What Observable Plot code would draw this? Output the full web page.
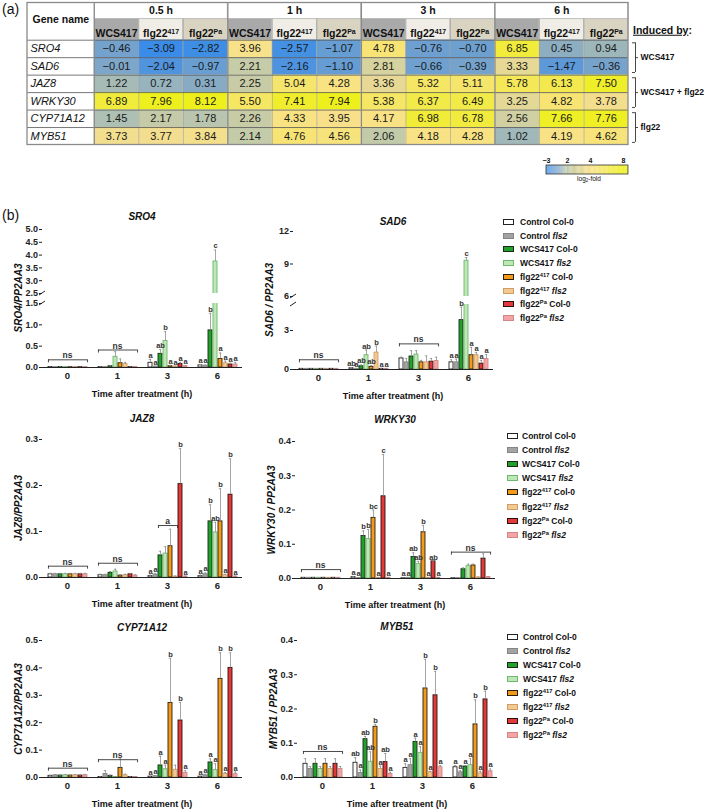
<!DOCTYPE html>
<html>
<head>
<meta charset="utf-8">
<script src="https://cdn.jsdelivr.net/npm/d3@7"></script>
<script src="https://cdn.jsdelivr.net/npm/@observablehq/plot@0.6"></script>
<style>
html,body{margin:0;padding:0;background:#fff;}
#page{position:relative;width:709px;height:810px;overflow:hidden;background:#fff;font-family:"Liberation Sans",Arial,Helvetica,sans-serif;color:#111;}
#page svg{overflow:visible;}
.t{position:absolute;white-space:nowrap;line-height:1;}
sup{font-size:68%;vertical-align:0.5em;line-height:0;}
sub{font-size:68%;vertical-align:-0.25em;line-height:0;}
</style>
</head>
<body>
<div id="page"></div>
<script>
// ================= DATA =================
// (a) heat-map table
const genes = ["SRO4","SAD6","JAZ8","WRKY30","CYP71A12","MYB51"];
const times = ["0.5 h","1 h","3 h","6 h"];
const treatments = ["WCS417","flg22^417","flg22^Pa"];
const foldSRO4   = [-0.46,-3.09,-2.82, 3.96,-2.57,-1.07, 4.78,-0.76,-0.70, 6.85, 0.45, 0.94];
const foldSAD6   = [-0.01,-2.04,-0.97, 2.21,-2.16,-1.10, 2.81,-0.66,-0.39, 3.33,-1.47,-0.36];
const foldJAZ8   = [ 1.22, 0.72, 0.31, 2.25, 5.04, 4.28, 3.36, 5.32, 5.11, 5.78, 6.13, 7.50];
const foldWRKY30 = [ 6.89, 7.96, 8.12, 5.50, 7.41, 7.94, 5.38, 6.37, 6.49, 3.25, 4.82, 3.78];
const foldCYP71A12=[ 1.45, 2.17, 1.78, 2.26, 4.33, 3.95, 4.17, 6.98, 6.78, 2.56, 7.66, 7.76];
const foldMYB51  = [ 3.73, 3.77, 3.84, 2.14, 4.76, 4.56, 2.06, 4.18, 4.28, 1.02, 4.19, 4.62];
const foldRows = [foldSRO4, foldSAD6, foldJAZ8, foldWRKY30, foldCYP71A12, foldMYB51];
const inducedBy = ["WCS417","WCS417 + flg22","flg22"];
const inducedGenes = [[0,2],[2,4],[4,6]];
const colorStops = [-3, 0, 2, 4, 8];
const colorbarTicks = [-3, 2, 4, 8];

// (b) qRT-PCR bar panels
const hours = ["0","1","3","6"];
const groups = ["Control Col-0","Control fls2","WCS417 Col-0","WCS417 fls2",
                "flg22^417 Col-0","flg22^417 fls2","flg22^Pa Col-0","flg22^Pa fls2"];

const sro4Mean = [0.012,0.008,0.012,0.010,0.010,0.010,0.010,0.008,
                  0.010,0.010,0.030,0.250,0.100,0.080,0.010,0.010,
                  0.110,0.020,0.320,0.620,0.030,0.020,0.080,0.030,
                  0.050,0.040,0.870,3.750,0.200,0.100,0.070,0.070];
const sro4Sd   = [0.004,0.004,0.004,0.004,0.004,0.004,0.004,0.004,
                  0.005,0.005,0.010,0.120,0.100,0.040,0.005,0.005,
                  0.080,0.010,0.100,0.220,0.020,0.010,0.040,0.010,
                  0.020,0.020,0.400,0.450,0.140,0.050,0.030,0.050];
const sro4Letters = ["","","","","","","","",
                     "","","","","","","","",
                     "a","a","ab","b","a","a","a","a",
                     "a","a","b","c","a","a","a","a"];
const sro4Brackets = [{hour:"0", y:0.18, label:"ns", from:0, to:7},
                      {hour:"1", y:0.41, label:"ns", from:0, to:7}];

const sad6Mean = [0.05,0.05,0.05,0.05,0.05,0.05,0.05,0.05,
                  0.10,0.05,0.25,1.10,0.20,1.30,0.05,0.05,
                  0.85,0.55,1.00,1.15,0.55,0.55,0.60,0.65,
                  0.55,0.55,3.80,9.30,1.10,1.10,0.45,0.80];
const sad6Sd   = [0.02,0.02,0.02,0.02,0.02,0.02,0.02,0.02,
                  0.05,0.03,0.10,0.40,0.10,0.50,0.03,0.03,
                  0.10,0.30,0.45,0.30,0.15,0.50,0.25,0.30,
                  0.20,0.25,1.00,0.30,0.60,0.20,0.25,0.35];
const sad6Letters = ["","","","","","","","",
                     "ab","a","ab","ab","ab","b","a","a",
                     "","","","","","","","",
                     "a","a","b","c","a","a","a","a"];
const sad6Brackets = [{hour:"0", y:0.75, label:"ns", from:0, to:7},
                      {hour:"3", y:1.97, label:"ns", from:0, to:7}];

const jaz8Mean = [0.007,0.007,0.007,0.007,0.007,0.007,0.007,0.007,
                  0.005,0.005,0.010,0.013,0.004,0.005,0.007,0.004,
                  0.003,0.006,0.048,0.052,0.068,0.002,0.203,0.002,
                  0.003,0.007,0.122,0.098,0.122,0.005,0.180,0.002];
const jaz8Sd   = [0.002,0.002,0.002,0.002,0.002,0.002,0.002,0.002,
                  0.002,0.002,0.003,0.005,0.002,0.002,0.002,0.002,
                  0.002,0.003,0.009,0.015,0.037,0.001,0.077,0.001,
                  0.002,0.003,0.036,0.022,0.071,0.002,0.078,0.001];
const jaz8Letters = ["","","","","","","","",
                     "","","","","","","","",
                     "a","a","","","","","b","a",
                     "a","a","b","ab","b","a","b","a"];
const jaz8Brackets = [{hour:"0", y:0.0246, label:"ns", from:0, to:7},
                      {hour:"1", y:0.031, label:"ns", from:0, to:7},
                      {hour:"3", y:0.113, label:"a", from:2, to:5}];

const wrky30Mean = [0.002,0.002,0.002,0.002,0.002,0.002,0.002,0.002,
                    0.004,0.001,0.124,0.115,0.177,0.002,0.240,0.002,
                    0.001,0.002,0.063,0.042,0.135,0.002,0.050,0.002,
                    0.001,0.001,0.027,0.036,0.038,0.003,0.058,0.004];
const wrky30Sd   = [0.001,0.001,0.001,0.001,0.001,0.001,0.001,0.001,
                    0.002,0.001,0.015,0.028,0.023,0.001,0.122,0.001,
                    0.001,0.001,0.012,0.008,0.020,0.001,0.001,0.001,
                    0.001,0.001,0.004,0.006,0.004,0.001,0.014,0.001];
const wrky30Letters = ["","","","","","","","",
                       "a","a","b","b","bc","a","c","a",
                       "a","a","ab","ab","b","a","ab","a",
                       "","","","","","","",""];
const wrky30Brackets = [{hour:"0", y:0.026, label:"ns", from:0, to:7},
                        {hour:"6", y:0.077, label:"ns", from:0, to:7}];

const cypMean = [0.006,0.008,0.007,0.008,0.007,0.008,0.007,0.008,
                 0.002,0.013,0.006,0.002,0.035,0.008,0.002,0.002,
                 0.003,0.005,0.044,0.030,0.272,0.028,0.208,0.017,
                 0.003,0.008,0.055,0.027,0.360,0.013,0.400,0.012];
const cypSd   = [0.002,0.003,0.002,0.003,0.002,0.003,0.002,0.003,
                 0.001,0.012,0.003,0.001,0.033,0.004,0.001,0.001,
                 0.001,0.002,0.034,0.015,0.163,0.017,0.066,0.008,
                 0.001,0.004,0.013,0.023,0.095,0.005,0.055,0.008];
const cypLetters = ["","","","","","","","",
                    "","","","","","","","",
                    "a","a","a","a","b","","b","a",
                    "a","a","a","a","b","a","b","a"];
const cypBrackets = [{hour:"0", y:0.034, label:"ns", from:0, to:7},
                     {hour:"1", y:0.065, label:"ns", from:0, to:7}];

const myb51Mean = [0.040,0.025,0.040,0.025,0.040,0.025,0.040,0.025,
                   0.043,0.013,0.112,0.046,0.148,0.025,0.045,0.010,
                   0.028,0.036,0.104,0.072,0.260,0.015,0.240,0.030,
                   0.030,0.015,0.032,0.036,0.155,0.012,0.228,0.018];
const myb51Sd   = [0.015,0.007,0.015,0.007,0.015,0.007,0.015,0.007,
                   0.015,0.009,0.008,0.029,0.007,0.008,0.025,0.005,
                   0.012,0.019,0.011,0.018,0.085,0.003,0.070,0.005,
                   0.005,0.005,0.003,0.019,0.072,0.006,0.024,0.007];
const myb51Letters = ["","","","","","","","",
                      "ab","a","ab","ab","b","a","ab","a",
                      "a","a","a","a","b","a","b","a",
                      "a","a","a","a","b","a","b","a"];
const myb51Brackets = [{hour:"0", y:0.076, label:"ns", from:0, to:7}];

// ================= STYLES =================
const FONT = '"Liberation Sans", Arial, Helvetica, sans-serif';
const colorRange = ["#3a8ce8","#7ea6c8","#c0c9ab","#f9e18a","#eef01c"];
const headFill = ["#a9a9a9","#efede5","#d9d3c1"];
const groupFill   = ["#ffffff","#a3a3a3","#22a02a","#bde8b5","#f39a1d","#f3c891","#e23a3a","#f3a5a5"];
const groupStroke = ["#222222","#858585","#1b2b1b","#6fb86f","#2b2010","#cf9e66","#2b1010","#d48585"];
const PAD_IN = 0.3, PAD_OUT = 0.42;

const page = document.getElementById("page");
const NS = "http://www.w3.org/2000/svg";
function place(el, left, top) {
  el.style.position = "absolute"; el.style.left = left + "px"; el.style.top = top + "px";
  page.appendChild(el); return el;
}
function rich(s) { return s.replace(/\^(\w+)/g, "<sup>$1</sup>").replace(/fls2/g, "<i>fls2</i>"); }
function label(html, x, y, css, anchor) {
  const d = document.createElement("div");
  d.className = "t"; d.innerHTML = html; d.style.cssText += css || "";
  const tx = anchor === "start" ? "0" : anchor === "end" ? "-100%" : "-50%";
  d.style.transform = `translate(${tx},-50%)`;
  place(d, x, y); return d;
}
function vlabel(html, x, y, css) {
  const d = document.createElement("div");
  d.className = "t"; d.innerHTML = html; d.style.cssText += css || "";
  d.style.transform = "translate(-50%,-50%) rotate(-90deg)";
  place(d, x, y); return d;
}
function svgSup(svg) {
  svg.querySelectorAll("text, tspan").forEach(node => {
    if (node.children.length) return;
    const s = node.textContent;
    if (!s || !s.includes("^")) return;
    const m = s.match(/^(.*?)\^(\w+)(.*)$/);
    node.textContent = "";
    const a = document.createElementNS(NS, "tspan"); a.textContent = m[1];
    const b = document.createElementNS(NS, "tspan"); b.textContent = m[2];
    b.setAttribute("font-size", "0.66em"); b.setAttribute("baseline-shift", "super");
    node.append(a, b);
    if (m[3]) { const c = document.createElementNS(NS, "tspan"); c.textContent = m[3]; node.append(c); }
  });
}

// ================= (a) TABLE =================
label("(a)", 2, 9, "font-size:14px;", "start");
const H0 = -2.13, H1 = -1.2;
const COLW = 601 / 13.5;
const cells = [];
genes.forEach((g, gi) => foldRows[gi].forEach((v, ci) => cells.push({gi, ci, v})));
const subHeads = times.flatMap((t, ti) => treatments.map((tr, k) => ({ci: ti * 3 + k, k, label: tr})));
const induced = inducedBy.map((lab, i) => ({label: lab, from: inducedGenes[i][0], to: inducedGenes[i][1]}));
const fmt2 = d3.format(".2f");

const table = Plot.plot({
  width: 709, height: 150, marginTop: 0, marginBottom: 0, marginLeft: 0, marginRight: 0,
  x: {type: "linear", domain: [-1.5, 12], range: [27, 628], axis: null},
  y: {type: "linear", domain: [H0, 6], range: [2.5, 144.5], axis: null},
  color: {type: "linear", domain: colorStops, range: colorRange, interpolate: "rgb", clamp: true},
  style: {fontFamily: FONT, fontSize: "11px", background: "transparent", color: "#111"},
  marks: [
    Plot.rect(times, {x1: (d, i) => i * 3, x2: (d, i) => i * 3 + 3, y1: H0, y2: H1, fill: "#fff", stroke: "#b5b5b5", strokeWidth: 0.8}),
    Plot.rect(subHeads, {x1: "ci", x2: d => d.ci + 1, y1: H1, y2: 0, fill: d => headFill[d.k], stroke: "#b5b5b5", strokeWidth: 0.6}),
    Plot.rect(["Gene name"], {x1: -1.5, x2: 0, y1: H0, y2: 0, fill: "#fff"}),
    Plot.rect(cells, {x1: "ci", x2: d => d.ci + 1, y1: "gi", y2: d => d.gi + 1, fill: "v"}),
    Plot.ruleX(d3.range(1, 12).filter(c => c % 3), {x: d => d, y1: H1, y2: 6, stroke: "#9a9a9a", strokeWidth: 0.6}),
    Plot.ruleY(genes, {y: (d, i) => i, x1: -1.5, x2: 12, stroke: "#555", strokeWidth: 0.8}),
    Plot.ruleX(times, {x: (d, i) => i * 3, y1: H0, y2: 6, stroke: "#8a8a8a", strokeWidth: 1.3}),
    Plot.rect([0], {x1: -1.5, x2: 12, y1: H0, y2: 6, fill: "none", stroke: "#8a8a8a", strokeWidth: 1.3}),
    Plot.text(times, {x: (d, i) => i * 3 + 1.5, y: (H0 + H1) / 2, text: d => d, fontWeight: "bold", fontSize: 10.5}),
    Plot.text(subHeads, {x: d => d.ci + 0.5, y: 0, dy: -6.5, text: "label", fontWeight: "bold", fontSize: 10.5}),
    Plot.text(["Gene name"], {x: -0.75, y: (H0 + 0) / 2 - 0.1, text: d => d, fontWeight: "bold", fontSize: 10.5}),
    Plot.text(genes, {x: -1.5, dx: 3, y: (d, i) => i + 0.5, text: d => d, textAnchor: "start", fontStyle: "italic", fontSize: 11}),
    Plot.text(cells, {x: d => d.ci + 0.5, y: d => d.gi + 0.5, text: d => fmt2(d.v), fontSize: 11, fill: "#1a1a1a"}),
    // "Induced by" brackets
    Plot.ruleX(induced, {x: 12 + 7 / COLW, y1: d => d.from + 0.15, y2: d => d.to - 0.15, stroke: "#333", strokeWidth: 0.9}),
    Plot.ruleY(induced, {y: d => d.from + 0.15, x1: 12 + 4 / COLW, x2: 12 + 7 / COLW, stroke: "#333", strokeWidth: 0.9}),
    Plot.ruleY(induced, {y: d => d.to - 0.15, x1: 12 + 4 / COLW, x2: 12 + 7 / COLW, stroke: "#333", strokeWidth: 0.9}),
    Plot.ruleY(induced, {y: d => (d.from + d.to) / 2, x1: 12 + 7 / COLW, x2: 12 + 10 / COLW, stroke: "#333", strokeWidth: 0.9}),
    Plot.text(induced, {x: 12 + 12 / COLW, y: d => (d.from + d.to) / 2, text: "label", textAnchor: "start", fontWeight: "bold", fontSize: 8.5})
  ]
});
svgSup(table);
place(table, 0, 0);
label("<u>Induced by</u>:", 633, 30, "font-size:10.5px;font-weight:bold;", "start");

// colour bar
const cbStep = 0.1;
const cbSamples = d3.range(-3, 8.6, cbStep);
const colorbar = Plot.plot({
  width: 160, height: 34, marginTop: 0, marginBottom: 0, marginLeft: 0, marginRight: 0,
  x: {type: "linear", domain: colorbarTicks, range: [46, 67, 90, 123], axis: null},
  y: {type: "linear", domain: [0, 1], range: [24, 15], axis: null},
  color: {type: "linear", domain: colorStops, range: colorRange, interpolate: "rgb", clamp: true},
  style: {fontFamily: FONT, background: "transparent", color: "#111"},
  marks: [
    Plot.rect(cbSamples, {x1: d => d, x2: d => d + cbStep * 1.05, y1: 0, y2: 1, fill: d => d + cbStep / 2}),
    Plot.rect([0], {x1: -3, x2: 8.6, y1: 0, y2: 1, fill: "none", stroke: "#333", strokeWidth: 0.8}),
    Plot.text(colorbarTicks, {x: d => d, y: 1, dy: -5, text: d => d3.format("d")(d), fontSize: 7, fontWeight: "bold"})
  ]
});
place(colorbar, 500, 150);
label("log<sub>2</sub>-fold", 589, 179, "font-size:6.5px;", "middle");

// ================= (b) BAR PANELS =================
label("(b)", 2, 215, "font-size:14px;", "start");

const panels = [
  {gene: "SRO4", yLabel: "SRO4/PP2AA3", mean: sro4Mean, sd: sro4Sd, letters: sro4Letters, brackets: sro4Brackets,
   axisLeft: 42, titleY: 217,
   segments: [{domain: [2.5, 5], top: 229, bottom: 293, ticks: [2.5, 3, 3.5, 4, 4.5, 5], fmt: ".1f"},
              {domain: [0, 1.5], top: 303, bottom: 367, ticks: [0, 0.5, 1, 1.5], fmt: ".1f"}]},
  {gene: "SAD6", yLabel: "SAD6 / PP2AA3", mean: sad6Mean, sd: sad6Sd, letters: sad6Letters, brackets: sad6Brackets,
   axisLeft: 293, titleY: 222,
   segments: [{domain: [6, 12], top: 231, bottom: 296, ticks: [6, 9, 12], fmt: "d"},
              {domain: [0, 5], top: 304, bottom: 369, ticks: [0, 3], fmt: "d"}]},
  {gene: "JAZ8", yLabel: "JAZ8/PP2AA3", mean: jaz8Mean, sd: jaz8Sd, letters: jaz8Letters, brackets: jaz8Brackets,
   axisLeft: 42, titleY: 419,
   segments: [{domain: [0, 0.3], top: 439, bottom: 577, ticks: [0, 0.1, 0.2, 0.3], fmt: ".1f"}]},
  {gene: "WRKY30", yLabel: "WRKY30 / PP2AA3", mean: wrky30Mean, sd: wrky30Sd, letters: wrky30Letters, brackets: wrky30Brackets,
   axisLeft: 295, titleY: 420,
   segments: [{domain: [0, 0.4], top: 441, bottom: 578, ticks: [0, 0.1, 0.2, 0.3, 0.4], fmt: ".1f"}]},
  {gene: "CYP71A12", yLabel: "CYP71A12/PP2AA3", mean: cypMean, sd: cypSd, letters: cypLetters, brackets: cypBrackets,
   axisLeft: 42, titleY: 628,
   segments: [{domain: [0, 0.5], top: 640, bottom: 777, ticks: [0, 0.1, 0.2, 0.3, 0.4, 0.5], fmt: ".1f"}]},
  {gene: "MYB51", yLabel: "MYB51 / PP2AA3", mean: myb51Mean, sd: myb51Sd, letters: myb51Letters, brackets: myb51Brackets,
   axisLeft: 297, titleY: 627,
   segments: [{domain: [0, 0.4], top: 640, bottom: 777, ticks: [0, 0.1, 0.2, 0.3, 0.4], fmt: ".1f"}]}
];

function breakMark(x, y) {
  const s = document.createElementNS(NS, "svg");
  s.setAttribute("width", 10); s.setAttribute("height", 8);
  const l = document.createElementNS(NS, "line");
  l.setAttribute("x1", 2); l.setAttribute("y1", 6); l.setAttribute("x2", 8); l.setAttribute("y2", 2);
  l.setAttribute("stroke", "#222"); l.setAttribute("stroke-width", 1);
  s.appendChild(l);
  place(s, x - 5, y - 4);
}

function drawPanel(p) {
  const rows = [];
  hours.forEach((h, hi) => groups.forEach((g, gi) => {
    const k = hi * groups.length + gi;
    rows.push({hour: h, group: g, gi, mean: p.mean[k], hi: p.mean[k] + p.sd[k], letter: p.letters[k]});
  }));
  const ML = 40, MR = 10, FW = 200;
  const step = (FW / hours.length) / (groups.length - PAD_IN + 2 * PAD_OUT);
  const bw = step * (1 - PAD_IN);
  const broken = p.segments.length > 1;
  p.segments.forEach((seg, si) => {
    const last = si === p.segments.length - 1;
    const mt = 14, mb = last ? 22 : 0;
    const H = seg.bottom - seg.top;
    const perPx = (seg.domain[1] - seg.domain[0]) / H;
    const txt = rows.filter(d => d.letter && (!broken || (last ? d.hi < seg.domain[1] : d.hi >= seg.domain[0])));
    const marks = [
      Plot.barY(rows, {fx: "hour", x: "group", y1: seg.domain[0] > 0 ? seg.domain[0] - 1 : 0, y2: "mean",
                       fill: d => groupFill[d.gi], stroke: d => groupStroke[d.gi], strokeWidth: 0.9, clip: broken}),
      Plot.ruleX(rows, {fx: "hour", x: "group", y1: "mean", y2: "hi", stroke: "#8f8f8f", strokeWidth: 0.8, clip: broken}),
      Plot.tickY(rows, {fx: "hour", x: "group", y: "hi", stroke: "#8f8f8f", strokeWidth: 0.8, insetLeft: 0.8, insetRight: 0.8, clip: broken}),
      Plot.text(txt, {fx: "hour", x: "group", y: "hi", text: "letter", lineAnchor: "bottom", dy: -1.5,
                      fontSize: 7.5, fontWeight: "bold", fill: "#333"}),
      Plot.axisY({ticks: seg.ticks, tickFormat: d3.format(seg.fmt), tickSize: 3, tickPadding: 1.5, line: true,
                  label: null, fontSize: 9, fontWeight: "bold"})
    ];
    if (last) {
      const br = p.brackets;
      marks.push(
        Plot.ruleY([seg.domain[0]], {stroke: "#222", strokeWidth: 1}),
        Plot.axisFx({anchor: "bottom", tickSize: 0, tickPadding: 5, label: null, fontSize: 9.5, fontWeight: "bold"}),
        Plot.ruleY(br, {fx: "hour", y: "y", x1: d => groups[d.from], x2: d => groups[d.to], stroke: "#333", strokeWidth: 0.9}),
        Plot.ruleX(br, {fx: "hour", x: d => groups[d.from], dx: -bw / 2, y1: "y", y2: d => d.y - 3 * perPx, stroke: "#333", strokeWidth: 0.9}),
        Plot.ruleX(br, {fx: "hour", x: d => groups[d.to], dx: bw / 2, y1: "y", y2: d => d.y - 3 * perPx, stroke: "#333", strokeWidth: 0.9}),
        Plot.text(br, {fx: "hour", y: "y", text: "label", lineAnchor: "bottom", dy: -1.5, fontSize: 8.5, fontWeight: "bold", fill: "#333"})
      );
    }
    const chart = Plot.plot({
      width: ML + FW + MR, height: mt + H + mb,
      marginLeft: ML, marginRight: MR, marginTop: mt, marginBottom: mb,
      style: {fontFamily: FONT, fontSize: "9px", background: "transparent", color: "#222"},
      fx: {domain: hours, padding: 0, axis: last ? undefined : null, label: null},
      x: {domain: groups, paddingInner: PAD_IN, paddingOuter: PAD_OUT, axis: null},
      y: {domain: seg.domain},
      marks
    });
    place(chart, p.axisLeft - ML, seg.top - mt);
  });
  if (broken) {
    breakMark(p.axisLeft, p.segments[0].bottom);
    breakMark(p.axisLeft, p.segments[1].top);
  }
  const top = p.segments[0].top, bottom = p.segments[p.segments.length - 1].bottom;
  label(p.gene, p.axisLeft + 100, p.titleY, "font-size:10px;font-weight:bold;font-style:italic;");
  vlabel(p.yLabel, p.axisLeft - 23, (top + bottom) / 2, "font-size:10px;font-weight:bold;font-style:italic;");
  label("Time after treatment (h)", p.axisLeft + 100, bottom + 27, "font-size:9px;font-weight:bold;");
}
panels.forEach(drawPanel);

// legends
function drawLegend(swX, textX, y0, stepY) {
  groups.forEach((g, i) => {
    const y = y0 + i * stepY;
    const sw = document.createElement("div");
    sw.style.cssText = `width:9px;height:4px;background:${groupFill[i]};border:1px solid ${groupStroke[i]};`;
    place(sw, swX, y - 3);
    label(rich(g), textX, y, "font-size:8.5px;font-weight:bold;", "start");
  });
}
drawLegend(503, 520, 222, 13.7);
drawLegend(507, 522, 436, 14.1);
drawLegend(507, 523, 637, 14.0);
</script>
</body>
</html>
